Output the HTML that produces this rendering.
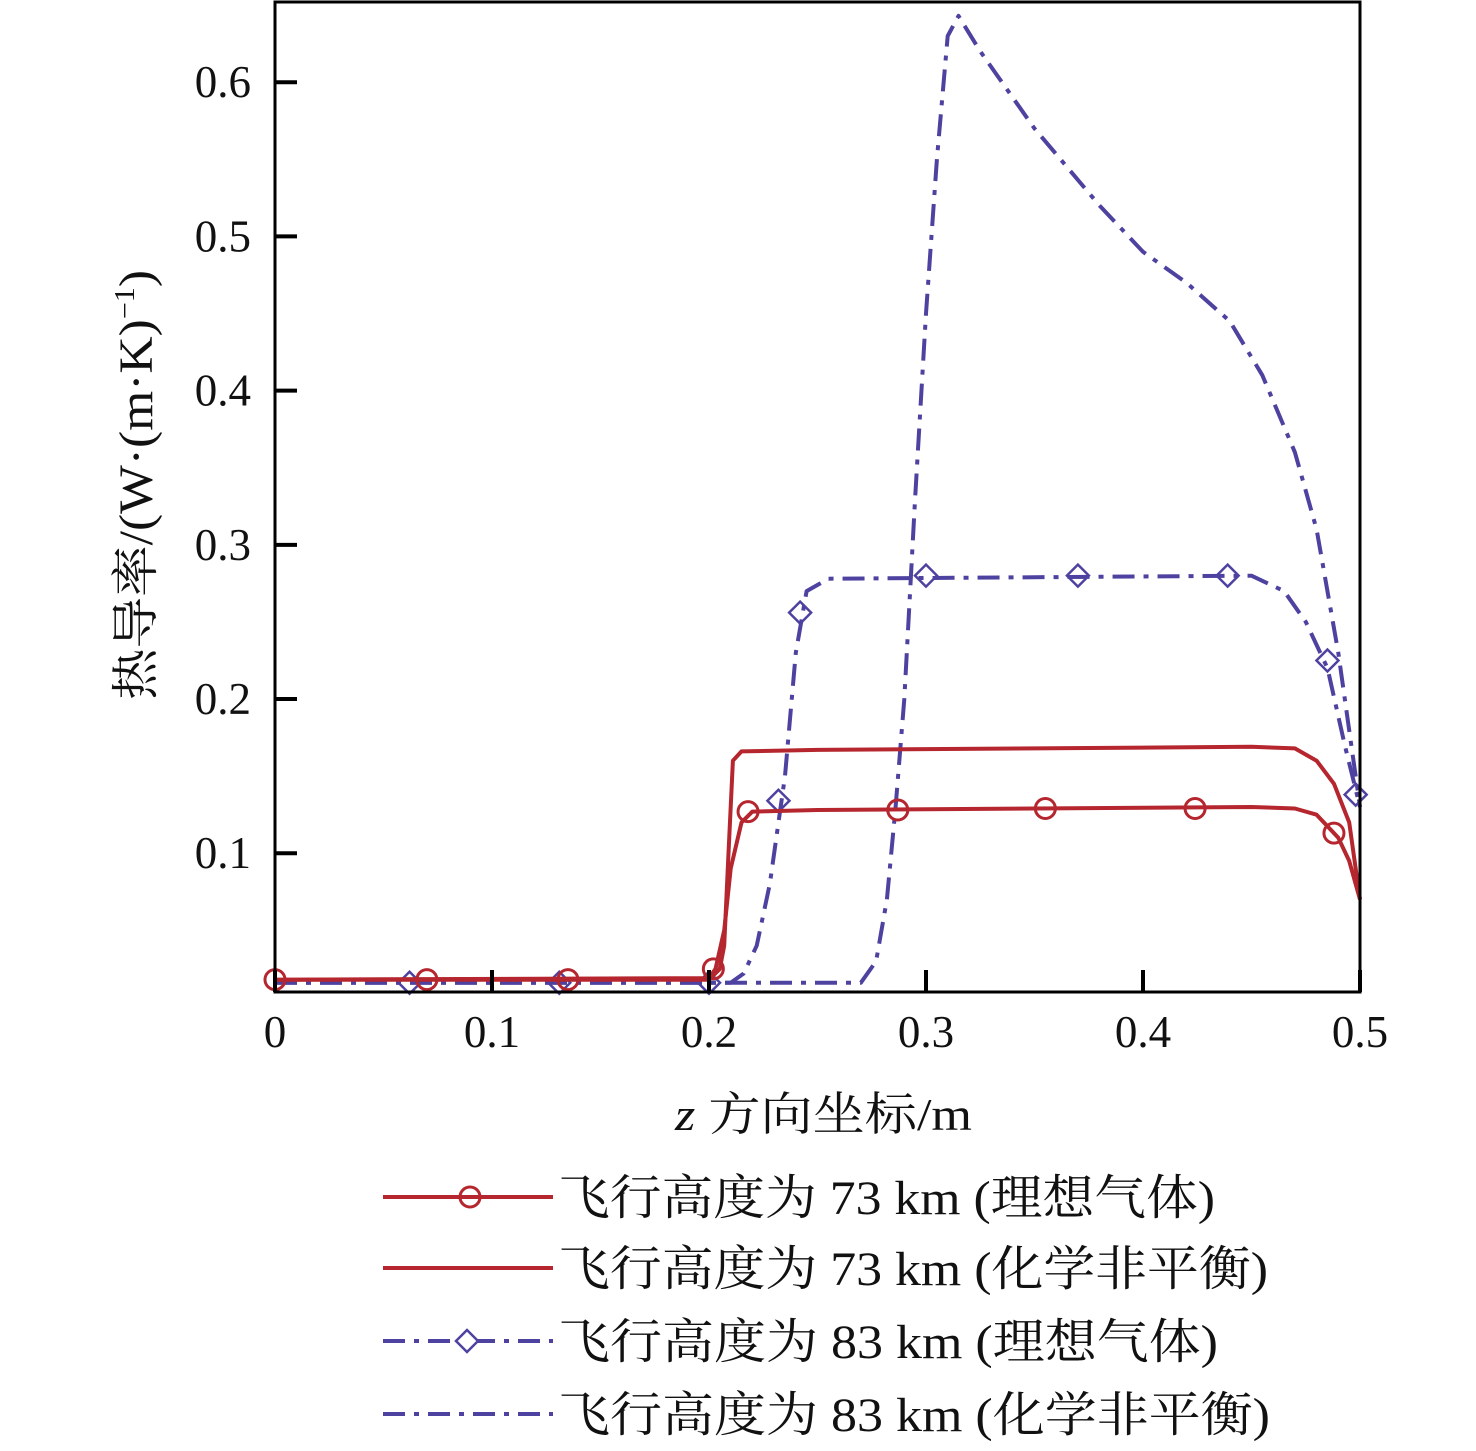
<!DOCTYPE html>
<html><head><meta charset="utf-8"><style>
html,body{margin:0;padding:0;background:#fff;}
svg text{font-family:"Liberation Serif","Noto Serif CJK SC",serif;fill:#111;}
</style></head><body>
<svg id="chart" width="1476" height="1446" xmlns="http://www.w3.org/2000/svg">
<g id="plot"></g>
<g id="axes"></g>
<g id="legend"></g>
</svg>
<script>
const xTicks=[0,0.1,0.2,0.3,0.4,0.5];
const xTickLabels=["0","0.1","0.2","0.3","0.4","0.5"];
const yTicks=[0.1,0.2,0.3,0.4,0.5,0.6];
const yTickLabels=["0.1","0.2","0.3","0.4","0.5","0.6"];
const s1x=[0,0.2,0.203,0.207,0.21,0.215,0.22,0.25,0.45,0.47,0.48,0.49,0.495,0.5];
const s1y=[0.018,0.019,0.025,0.05,0.09,0.12,0.127,0.128,0.13,0.129,0.125,0.11,0.095,0.07];
const s1mx=[0,0.07,0.135,0.202,0.218,0.287,0.355,0.424,0.488];
const s1my=[0.018,0.018,0.018,0.025,0.127,0.128,0.129,0.129,0.113];
const s2x=[0,0.2,0.205,0.207,0.209,0.211,0.215,0.25,0.45,0.47,0.48,0.488,0.495,0.5];
const s2y=[0.018,0.018,0.025,0.04,0.1,0.16,0.166,0.167,0.169,0.168,0.16,0.145,0.12,0.07];
const s3x=[0,0.21,0.216,0.222,0.228,0.235,0.24,0.245,0.255,0.45,0.465,0.475,0.485,0.493,0.5];
const s3y=[0.016,0.016,0.022,0.04,0.08,0.15,0.23,0.27,0.278,0.28,0.27,0.25,0.22,0.17,0.13];
const s3mx=[0.062,0.131,0.2,0.232,0.242,0.3,0.37,0.439,0.485,0.498];
const s3my=[0.016,0.016,0.016,0.134,0.256,0.28,0.28,0.28,0.225,0.138];
const s4x=[0,0.27,0.277,0.282,0.286,0.29,0.295,0.3,0.305,0.31,0.315,0.325,0.35,0.38,0.4,0.42,0.44,0.455,0.47,0.48,0.49,0.5];
const s4y=[0.016,0.016,0.03,0.07,0.13,0.2,0.33,0.45,0.55,0.63,0.643,0.62,0.57,0.52,0.49,0.47,0.445,0.41,0.36,0.31,0.23,0.13];
const legendLabels=["飞行高度为 73 km (理想气体)","飞行高度为 73 km (化学非平衡)","飞行高度为 83 km (理想气体)","飞行高度为 83 km (化学非平衡)"];

const X0=275,X1=1360,Y0=992,Y1=2;
const xs=v=>X0+(v-0)/(0.5)*(X1-X0);
const ys=v=>Y0-(v-0.01)*1542;
const NS="http://www.w3.org/2000/svg";
const RED="#b5262e",BLUE="#4e42a0",DASH="22 9 5 9";
function mk(tag,attrs,parent){const e=document.createElementNS(NS,tag);for(const k in attrs)e.setAttribute(k,attrs[k]);parent.appendChild(e);return e;}
const plot=document.getElementById('plot'),axes=document.getElementById('axes'),legend=document.getElementById('legend');

function line(xa,ya,color,dash,name){
  const pts=xa.map((x,i)=>xs(x).toFixed(1)+","+ys(ya[i]).toFixed(1)).join(" ");
  const p=mk('polyline',{points:pts,fill:"none",stroke:color,"stroke-width":4,"stroke-linejoin":"round"},plot);
  if(dash)p.setAttribute('stroke-dasharray',dash);
  
  
}
function circles(xa,ya,name){
  xa.forEach((x,i)=>{
    const c=mk('circle',{cx:xs(x),cy:ys(ya[i]),r:10,fill:"none",stroke:RED,"stroke-width":3},plot);
    
    
  });
}
function diamonds(xa,ya,name){
  xa.forEach((x,i)=>{
    const cx=xs(x),cy=ys(ya[i]),r=11;
    const d=mk('polygon',{points:`${cx},${cy-r} ${cx+r},${cy} ${cx},${cy+r} ${cx-r},${cy}`,fill:"none",stroke:BLUE,"stroke-width":2.5},plot);
    
    
  });
}
line(s4x,s4y,BLUE,DASH,"series-83km-nonequilibrium");
line(s3x,s3y,BLUE,DASH,"series-83km-ideal");
diamonds(s3mx,s3my,"marker-83km-ideal");
line(s2x,s2y,RED,null,"series-73km-nonequilibrium");
line(s1x,s1y,RED,null,"series-73km-ideal");
circles(s1mx,s1my,"marker-73km-ideal");

const fr=mk('rect',{x:X0,y:Y1,width:X1-X0,height:Y0-Y1,fill:"none",stroke:"#000","stroke-width":3},axes);


xTicks.forEach((v,i)=>{
  const x=xs(v);
  const t=mk('line',{x1:x,y1:Y0,x2:x,y2:Y0-22,stroke:"#000","stroke-width":4},axes);
  
  
  const l=mk('text',{x:x,y:Y0+55,"font-size":45,"text-anchor":"middle"},axes);
  l.textContent=xTickLabels[i];
  
  
});
yTicks.forEach((v,i)=>{
  const y=ys(v);
  const t=mk('line',{x1:X0,y1:y,x2:X0+22,y2:y,stroke:"#000","stroke-width":4},axes);
  
  
  const l=mk('text',{x:251,y:y+15,"font-size":45,"text-anchor":"end"},axes);
  l.textContent=yTickLabels[i];
  
  
});
const xt=mk('text',{x:675,y:1130,"font-size":46,textLength:297,lengthAdjust:"spacingAndGlyphs"},axes);
xt.innerHTML='<tspan font-style="italic">z</tspan> 方向坐标/m';


const yt=mk('text',{x:0,y:0,"font-size":48,textLength:430,lengthAdjust:"spacingAndGlyphs",transform:"translate(152,700) rotate(-90)"},axes);
yt.innerHTML='热导率/(W·(m·K)<tspan font-size="28" dy="-18">−1</tspan><tspan dy="18">)</tspan>';



const ly=[1197,1268,1341,1414];
const lw=[657,710,660,712];
const lc=[RED,RED,BLUE,BLUE],ld=[null,null,DASH,DASH];
ly.forEach((y,i)=>{
  const g=mk('g',{},legend);
  
  
  const l=mk('line',{x1:383,y1:y,x2:553,y2:y,stroke:lc[i],"stroke-width":4},g);
  if(ld[i])l.setAttribute('stroke-dasharray',DASH);
  if(i===0)mk('circle',{cx:470,cy:y,r:10,fill:"none",stroke:RED,"stroke-width":3},g);
  if(i===2)mk('polygon',{points:`467,${y-11} 478,${y} 467,${y+11} 456,${y}`,fill:"#fff",stroke:BLUE,"stroke-width":2.5},g);
  const t=mk('text',{x:558,y:y+17,"font-size":48,textLength:lw[i],lengthAdjust:"spacingAndGlyphs"},g);
  t.textContent=legendLabels[i];
});
</script>
</body></html>
